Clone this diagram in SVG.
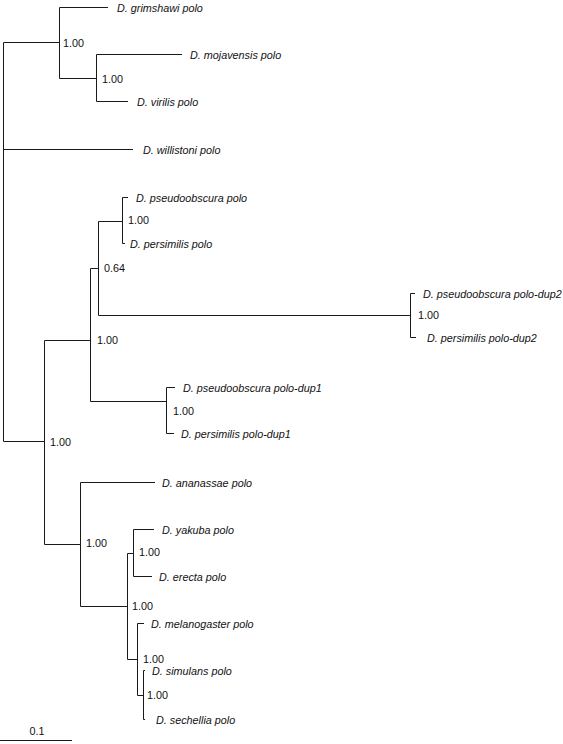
<svg xmlns="http://www.w3.org/2000/svg" width="563" height="744" viewBox="0 0 563 744">
<style>
.e{stroke:#1a1a1a;stroke-width:1;fill:none}
.t{font-family:"Liberation Sans",Arial,sans-serif;font-size:10.8px;fill:#111}
.l{font-style:italic}
</style>
<rect width="563" height="744" fill="#fff"/>
<g id="connectors" class="e">
<path d="M3.5,42.5V441.5M3.5,42.5H59.5M3.5,149.5H133M3.5,441.5H44.5"/>
<path d="M59.5,7.5V78.5M59.5,7.5H108M59.5,78.5H96.5"/>
<path d="M96.5,54.5V101.5M96.5,54.5H182M96.5,101.5H128"/>
<path d="M44.5,340.5V544.5M44.5,340.5H90.5M44.5,544.5H80.5"/>
<path d="M90.5,268.5V401.5M90.5,268.5H98.5M90.5,401.5H166.5"/>
<path d="M98.5,221.5V315.5M98.5,221.5H122.5M98.5,315.5H410.5"/>
<path d="M122.5,197.5V243.5M122.5,197.5H128M122.5,243.5H125"/>
<path d="M410.5,293.5V337.5M410.5,293.5H415M410.5,337.5H416"/>
<path d="M166.5,387.5V433.5M166.5,387.5H175M166.5,433.5H174"/>
<path d="M80.5,482.5V606.5M80.5,482.5H155M80.5,606.5H127.5"/>
<path d="M127.5,553.5V659.5M127.5,553.5H133.5M127.5,659.5H137.5"/>
<path d="M133.5,529.5V576.5M133.5,529.5H154M133.5,576.5H152"/>
<path d="M137.5,623.5V695.5M137.5,623.5H144M137.5,695.5H143.5"/>
<path d="M143.5,670.5V719.5M143.5,670.5H145M143.5,719.5H145"/>
<path d="M0,740.5H72"/>
</g>
<g id="leaf-grimshawi"><text class="t l" x="117" y="11.5">D. grimshawi polo</text></g>
<g id="leaf-mojavensis"><text class="t l" x="190" y="58.5">D. mojavensis polo</text></g>
<g id="leaf-virilis"><text class="t l" x="137" y="105.5">D. virilis polo</text></g>
<g id="leaf-willistoni"><text class="t l" x="143" y="153.5">D. willistoni polo</text></g>
<g id="leaf-pseudoobscura"><text class="t l" x="136" y="201.5">D. pseudoobscura polo</text></g>
<g id="leaf-persimilis"><text class="t l" x="130" y="247.5">D. persimilis polo</text></g>
<g id="leaf-pseudoobscura-dup2"><text class="t l" x="423" y="297.5">D. pseudoobscura polo-dup2</text></g>
<g id="leaf-persimilis-dup2"><text class="t l" x="427" y="341.5">D. persimilis polo-dup2</text></g>
<g id="leaf-pseudoobscura-dup1"><text class="t l" x="183" y="391.5">D. pseudoobscura polo-dup1</text></g>
<g id="leaf-persimilis-dup1"><text class="t l" x="181" y="437.5">D. persimilis polo-dup1</text></g>
<g id="leaf-ananassae"><text class="t l" x="162" y="486.5">D. ananassae polo</text></g>
<g id="leaf-yakuba"><text class="t l" x="162" y="533.5">D. yakuba polo</text></g>
<g id="leaf-erecta"><text class="t l" x="159" y="580.5">D. erecta polo</text></g>
<g id="leaf-melanogaster"><text class="t l" x="151" y="627.5">D. melanogaster polo</text></g>
<g id="leaf-simulans"><text class="t l" x="152" y="674.5">D. simulans polo</text></g>
<g id="leaf-sechellia"><text class="t l" x="156" y="723.5">D. sechellia polo</text></g>
<g id="node-A"><text class="t" x="63" y="46.5">1.00</text></g>
<g id="node-C"><text class="t" x="102" y="83">1.00</text></g>
<g id="node-H"><text class="t" x="128" y="224">1.00</text></g>
<g id="node-F"><text class="t" x="104" y="272">0.64</text></g>
<g id="node-I"><text class="t" x="418" y="319">1.00</text></g>
<g id="node-D"><text class="t" x="97" y="343.5">1.00</text></g>
<g id="node-G"><text class="t" x="173" y="415">1.00</text></g>
<g id="node-B"><text class="t" x="50" y="445.5">1.00</text></g>
<g id="node-E"><text class="t" x="86" y="547">1.00</text></g>
<g id="node-K"><text class="t" x="139" y="556">1.00</text></g>
<g id="node-J"><text class="t" x="132" y="610">1.00</text></g>
<g id="node-L"><text class="t" x="143" y="663">1.00</text></g>
<g id="node-M"><text class="t" x="147" y="699">1.00</text></g>
<g id="scale"><text class="t" x="37" y="735" text-anchor="middle">0.1</text></g>
</svg>
